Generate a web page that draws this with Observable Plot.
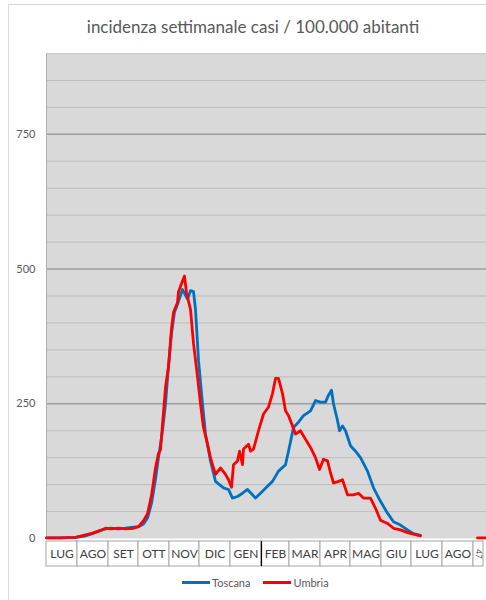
<!DOCTYPE html>
<html><head><meta charset="utf-8">
<script src="https://cdn.jsdelivr.net/npm/d3@7"></script>
<script src="https://cdn.jsdelivr.net/npm/@observablehq/plot@0.6"></script>
<style>
body{margin:0;background:#fff;font-family:Lato,"Open Sans",sans-serif;}
#wrap{position:relative;width:486px;height:600px;overflow:hidden;}
#frame{position:absolute;left:8px;top:4px;width:520px;height:640px;border:1px solid #d9d9d9;box-sizing:border-box;}
#title{position:absolute;left:0;width:506px;top:16px;text-align:center;font-size:17px;color:#595959;white-space:nowrap;}
#main{position:absolute;left:0;top:0;}
#table{position:absolute;left:0;top:540px;}
#legend{position:absolute;left:182px;top:576px;display:flex;align-items:center;font-size:11px;color:#595959;}
#legend .sw{display:inline-block;width:28px;height:3px;margin-right:2px;}
#legend .item{display:flex;align-items:center;margin-right:13px;}
</style></head>
<body><div id="wrap"><div id="frame"></div>
<div id="title">incidenza settimanale casi / 100.000 abitanti</div>
<div id="main"></div><div id="table"></div>
<div id="legend"></div></div>
<script>
const seriesNames = ["Toscana", "Umbria"];
const seriesColors = ["#0070c0", "#ff0000"];
const yTicks = [0, 250, 500, 750];
const monthLabels = ["LUG","AGO","SET","OTT","NOV","DIC","GEN","FEB","MAR","APR","MAG","GIU","LUG","AGO"];
const extraLabel = "47";

const toscanaDates = ["2020-07-01","2020-07-15","2020-07-30","2020-08-07","2020-08-16","2020-08-24","2020-08-29","2020-09-03","2020-09-11","2020-09-18","2020-09-26","2020-10-01","2020-10-06","2020-10-10","2020-10-14","2020-10-18","2020-10-21","2020-10-25","2020-10-28","2020-10-31","2020-11-03","2020-11-06","2020-11-10","2020-11-14","2020-11-19","2020-11-22","2020-11-25","2020-11-27","2020-11-30","2020-12-04","2020-12-07","2020-12-12","2020-12-17","2020-12-25","2020-12-30","2021-01-03","2021-01-08","2021-01-13","2021-01-18","2021-01-26","2021-01-31","2021-02-07","2021-02-12","2021-02-18","2021-02-25","2021-02-28","2021-03-05","2021-03-10","2021-03-15","2021-03-22","2021-03-27","2021-04-01","2021-04-06","2021-04-09","2021-04-12","2021-04-14","2021-04-18","2021-04-20","2021-04-23","2021-04-26","2021-05-01","2021-05-06","2021-05-11","2021-05-18","2021-05-24","2021-05-31","2021-06-07","2021-06-13","2021-06-20","2021-06-27","2021-07-03","2021-07-10"];
const toscanaValues = [1,1,2,4,9,15,18,19,18,19,21,22,27,38,65,110,150,200,250,320,380,420,440,462,444,460,458,425,331,250,194,144,106,94,91,75,78,84,91,75,84,97,106,125,137,162,206,216,228,237,256,253,253,266,275,250,219,200,209,200,172,162,150,125,94,69,47,31,25,16,9,6];

const umbriaDates = ["2020-07-01","2020-07-15","2020-07-30","2020-08-07","2020-08-16","2020-08-24","2020-08-29","2020-09-03","2020-09-11","2020-09-18","2020-09-26","2020-10-01","2020-10-06","2020-10-10","2020-10-14","2020-10-18","2020-10-21","2020-10-23","2020-10-28","2020-10-31","2020-11-03","2020-11-05","2020-11-09","2020-11-10","2020-11-14","2020-11-16","2020-11-18","2020-11-22","2020-11-25","2020-11-29","2020-12-02","2020-12-05","2020-12-09","2020-12-12","2020-12-14","2020-12-17","2020-12-22","2020-12-27","2020-12-30","2021-01-02","2021-01-04","2021-01-08","2021-01-10","2021-01-13","2021-01-14","2021-01-19","2021-01-21","2021-01-24","2021-01-29","2021-02-03","2021-02-08","2021-02-12","2021-02-15","2021-02-18","2021-02-22","2021-02-25","2021-02-28","2021-03-04","2021-03-07","2021-03-12","2021-03-17","2021-03-22","2021-03-27","2021-03-31","2021-04-04","2021-04-08","2021-04-11","2021-04-14","2021-04-19","2021-04-23","2021-04-28","2021-05-04","2021-05-09","2021-05-14","2021-05-21","2021-05-26","2021-05-31","2021-06-07","2021-06-13","2021-06-20","2021-06-27","2021-07-03","2021-07-10"];
const umbriaValues = [1,1,2,6,10,15,19,18,19,18,19,22,33,46,80,131,158,165,281,319,390,420,438,458,478,487,456,425,362,300,250,206,175,150,137,119,131,119,109,95,137,144,162,137,166,175,162,166,200,231,244,269,297,297,269,237,228,209,194,200,184,169,150,128,147,144,122,103,106,109,81,81,84,75,75,56,34,28,19,16,11,8,5];
const umbriaTailDates = ["2021-09-05","2021-09-14"];
const umbriaTailValues = [1,1];

const parse = d3.utcParse("%Y-%m-%d");
const toscana = toscanaDates.map((d,i)=>({date:parse(d), value:toscanaValues[i]}));
const umbria = umbriaDates.map((d,i)=>({date:parse(d), value:umbriaValues[i]}));
const umbriaTail = umbriaTailDates.map((d,i)=>({date:parse(d), value:umbriaTailValues[i]}));

const xDomain = [parse("2020-07-01"), parse("2021-09-14")];
const months = monthLabels.map((label,i)=>{
  const start = d3.utcMonth.offset(xDomain[0], i);
  const end = d3.utcMonth.offset(xDomain[0], i+1);
  return {label, start, end, mid:new Date((+start + +end)/2)};
});
const extraCell = [{label: extraLabel, start: months[months.length-1].end, end: parse("2021-09-11")}];
extraCell[0].mid = new Date((+extraCell[0].start + +extraCell[0].end)/2);

const font = "Lato, 'Open Sans', sans-serif";
const main = Plot.plot({
  width:486, height:540, marginLeft:46, marginRight:0, marginTop:53, marginBottom:2,
  style:{fontFamily:font, fontSize:"11px", color:"#595959", background:"transparent", overflow:"visible"},
  x:{type:"utc", domain:xDomain, axis:null},
  y:{domain:[0,900], axis:null},
  marks:[
    Plot.frame({fill:"#d9d9d9", stroke:null}),
    Plot.ruleY(d3.range(50, 900, 50).filter(v=>v%250!==0), {stroke:"#bdbdbd", strokeWidth:1}),
    Plot.ruleY(yTicks.filter(v=>v>0), {stroke:"#9e9e9e", strokeWidth:1.5}),
    Plot.ruleX([xDomain[0]], {stroke:"#b0b0b0", strokeWidth:1}),
    Plot.ruleY([900], {stroke:"#c8c8c8", strokeWidth:1}),
    Plot.axisY({ticks:yTicks, tickSize:0, tickPadding:11, fontSize:11, fill:"#595959", label:null}),
    Plot.line(toscana, {x:"date", y:"value", stroke:seriesColors[0], strokeWidth:2.8}),
    Plot.line(umbria, {x:"date", y:"value", stroke:seriesColors[1], strokeWidth:2.8}),
    Plot.line(umbriaTail, {x:"date", y:"value", stroke:seriesColors[1], strokeWidth:2.8})
  ]
});
document.getElementById("main").append(main);

const table = Plot.plot({
  width:486, height:27, marginLeft:46, marginRight:0, marginTop:1, marginBottom:1,
  style:{fontFamily:font, background:"transparent", overflow:"visible"},
  x:{type:"utc", domain:xDomain, axis:null},
  marks:[
    Plot.rect(months.concat(extraCell), {x1:"start", x2:"end", fill:"white", stroke:"#a6a6a6", strokeWidth:1}),
    Plot.ruleX([months[7].start], {stroke:"#000", strokeWidth:1.2}),
    Plot.text(months, {x:"mid", text:"label", frameAnchor:"middle", fontSize:12, fill:"#404040"}),
    Plot.text(extraCell, {x:"mid", text:"label", frameAnchor:"middle", rotate:90, fontSize:8, fill:"#404040"})
  ]
});
document.getElementById("table").append(table);

const legend = document.getElementById("legend");
seriesNames.forEach((n,i)=>{
  const it = document.createElement("span"); it.className="item";
  const sw = document.createElement("span"); sw.className="sw"; sw.style.background=seriesColors[i];
  it.append(sw, document.createTextNode(n));
  legend.append(it);
});
</script></body></html>
